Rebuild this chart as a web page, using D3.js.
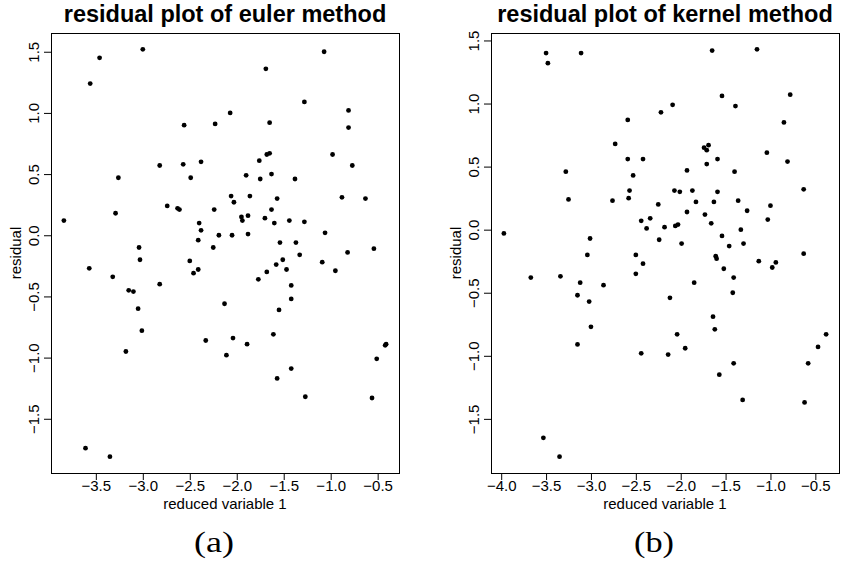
<!DOCTYPE html>
<html>
<head>
<meta charset="utf-8">
<script src="https://cdn.jsdelivr.net/npm/d3@7"></script>
<style>
    body { margin: 0; background: #fff; }
    svg text { font-family: "Liberation Sans", Arial, Helvetica, sans-serif; fill: #000; }
    .plot-title { font-weight: bold; font-size: 23.5px; }
    .axis-label { font-size: 15px; }
    .caption { font-family: "Liberation Serif", "Times New Roman", serif !important; font-size: 29px; }
</style>
</head>
<body>
<svg id="chart"></svg>
<script>

// residuals of the euler method (left panel)
const eulerX = [-3.56, -3.46, -3.00, -1.69, -1.07, -1.28, -0.81, -2.56, -2.23, -2.07,
    -1.65, -0.81, -3.84, -3.29, -3.26, -3.04, -2.82, -2.74, -2.63, -2.61,
    -2.57, -2.49, -2.38, -2.40, -2.38, -2.41, -2.24, -2.25, -2.19, -2.06,
    -2.03, -2.05, -1.95, -1.94, -1.90, -1.86, -1.88, -1.88, -1.76, -1.75,
    -1.68, -1.65, -1.63, -1.63, -1.70, -1.60, -1.57, -1.54, -1.44, -1.38,
    -1.37, -1.28, -1.06, -0.98, -0.88, -0.77, -0.63, -0.54, -3.57, -3.32,
    -3.15, -3.10, -3.03, -3.05, -3.01, -3.18, -2.82, -2.50, -2.46, -2.41,
    -2.13, -2.33, -2.11, -2.04, -1.89, -1.77, -1.68, -1.58, -1.51, -1.47,
    -1.42, -1.42, -1.55, -1.61, -1.42, -1.33, -1.09, -0.95, -0.82, -0.41,
    -0.42, -0.51, -1.57, -1.27, -0.56, -3.61, -3.35];
const eulerY = [1.24, 1.45, 1.52, 1.36, 1.50, 1.09, 1.02, 0.90, 0.91, 1.00,
    0.92, 0.88, 0.12, 0.18, 0.47, -0.10, 0.57, 0.24, 0.22, 0.21,
    0.58, 0.47, 0.60, 0.10, 0.04, -0.04, 0.21, -0.10, 0.00, 0.32,
    0.27, 0.00, 0.15, 0.12, 0.49, 0.32, 0.16, 0.01, 0.61, 0.46,
    0.66, 0.67, 0.50, 0.21, 0.14, 0.10, 0.30, -0.06, 0.12, 0.46,
    -0.06, 0.11, 0.02, 0.66, 0.31, 0.57, 0.30, -0.11, -0.27, -0.34,
    -0.45, -0.46, -0.20, -0.60, -0.78, -0.95, -0.40, -0.21, -0.31, -0.28,
    -0.56, -0.86, -0.98, -0.84, -0.89, -0.36, -0.30, -0.24, -0.20, -0.28,
    -0.41, -0.52, -0.61, -0.81, -1.09, -0.16, -0.22, -0.29, -0.14, -0.89,
    -0.90, -1.01, -1.17, -1.32, -1.33, -1.74, -1.81];

// residuals of the kernel method (right panel)
const kernelX = [-3.50, -3.48, -3.11, -1.65, -1.15, -1.54, -1.39, -0.78, -2.59, -2.22,
    -2.09, -0.85, -3.97, -3.28, -3.25, -3.01, -2.73, -2.76, -2.59, -2.57,
    -2.58, -2.53, -2.42, -2.44, -2.38, -2.34, -2.25, -2.24, -2.18, -2.07,
    -2.01, -2.06, -2.03, -1.99, -1.93, -1.93, -1.87, -1.83, -1.74, -1.71,
    -1.69, -1.71, -1.73, -1.66, -1.63, -1.59, -1.59, -1.54, -1.46, -1.40,
    -1.36, -1.33, -1.30, -1.26, -1.04, -1.00, -1.03, -0.81, -0.63, -3.67,
    -3.34, -3.04, -3.12, -3.15, -3.02, -2.86, -3.00, -3.15, -2.50, -2.42,
    -2.50, -2.44, -2.12, -2.14, -2.04, -1.95, -1.85, -1.61, -1.60, -1.52,
    -1.64, -1.62, -1.41, -1.42, -1.41, -1.13, -0.98, -0.94, -0.63, -0.38,
    -0.47, -0.58, -1.57, -1.31, -0.62, -3.53, -3.35];
const kernelY = [1.40, 1.32, 1.40, 1.42, 1.43, 1.06, 0.98, 1.07, 0.87, 0.93,
    0.99, 0.85, -0.03, 0.46, 0.24, -0.07, 0.68, 0.23, 0.56, 0.31,
    0.25, 0.43, 0.56, 0.07, 0.01, 0.09, 0.20, -0.08, 0.02, 0.31,
    0.30, 0.03, 0.04, -0.11, 0.47, 0.14, 0.31, 0.22, 0.65, 0.63,
    0.67, 0.52, 0.12, 0.05, 0.22, 0.56, 0.30, -0.05, -0.13, 0.46,
    0.23, 0.00, -0.11, 0.15, 0.61, 0.19, 0.08, 0.54, 0.32, -0.38,
    -0.37, -0.20, -0.42, -0.52, -0.57, -0.44, -0.77, -0.91, -0.20, -0.27,
    -0.35, -0.98, -0.54, -0.99, -0.83, -0.94, -0.42, -0.21, -0.23, -0.31,
    -0.69, -0.79, -0.38, -0.50, -1.06, -0.25, -0.30, -0.26, -0.19, -0.83,
    -0.93, -1.06, -1.15, -1.35, -1.37, -1.65, -1.80];

const eulerTicksX = [-3.5, -3.0, -2.5, -2.0, -1.5, -1.0, -0.5];
const kernelTicksX = [-4.0, -3.5, -3.0, -2.5, -2.0, -1.5, -1.0, -0.5];
const residualTicks = [-1.5, -1.0, -0.5, 0.0, 0.5, 1.0, 1.5];

const plotTitles = ['residual plot of euler method', 'residual plot of kernel method'];
const captions = ['(a)', '(b)'];
const xLabel = 'reduced variable 1';
const yLabel = 'residual';


class residualPlot {

    constructor(_config, _data) {
        this.config = {
            parentElement: _config.parentElement,
            left: _config.left || 0,
            top: _config.top || 33,
            width: _config.width || 348,
            height: _config.height || 440,
            title: _config.title,
            caption: _config.caption,
            xTicks: _config.xTicks,
            yTicks: _config.yTicks
        }

        this.data = _data;
        this.initVis();
    }

    initVis() {
        let vis = this;

        vis.chart = d3.select(vis.config.parentElement).append('g')
            .attr('transform', `translate(${vis.config.left},${vis.config.top})`);

        // R pads the data range by 4% on each side
        const pad = ext => {
            const d = (ext[1] - ext[0]) * 0.04;
            return [ext[0] - d, ext[1] + d];
        };

        vis.xScale = d3.scaleLinear()
            .domain(pad(d3.extent(vis.data, d => d.x)))
            .range([0, vis.config.width]);

        vis.yScale = d3.scaleLinear()
            .domain(pad(d3.extent(vis.data, d => d.y)))
            .range([vis.config.height, 0]);

        vis.xAxis = d3.axisBottom(vis.xScale)
            .tickValues(vis.config.xTicks)
            .tickSize(7)
            .tickFormat(d3.format('.1f'));

        vis.yAxis = d3.axisLeft(vis.yScale)
            .tickValues(vis.config.yTicks)
            .tickSize(7)
            .tickFormat(d3.format('.1f'));

        vis.xAxisGroup = vis.chart.append('g')
            .attr('class', 'x-axis')
            .attr('transform', `translate(0,${vis.config.height})`);

        vis.yAxisGroup = vis.chart.append('g')
            .attr('class', 'y-axis');

        // box around the plot region
        vis.chart.append('rect')
            .attr('x', 0.5)
            .attr('y', 0.5)
            .attr('width', vis.config.width)
            .attr('height', vis.config.height)
            .attr('fill', 'none')
            .attr('stroke', '#000')
            .attr('stroke-width', 1);

        vis.chart.append('text')
            .attr('class', 'plot-title')
            .attr('x', vis.config.width / 2)
            .attr('y', -11)
            .style('text-anchor', 'middle')
            .text(vis.config.title);

        vis.chart.append('text')
            .attr('class', 'axis-label')
            .attr('x', vis.config.width / 2)
            .attr('y', vis.config.height + 36)
            .style('text-anchor', 'middle')
            .text(xLabel);

        vis.chart.append('text')
            .attr('class', 'axis-label')
            .attr('transform', 'rotate(-90)')
            .attr('x', -vis.config.height / 2)
            .attr('y', -30)
            .style('text-anchor', 'middle')
            .text(yLabel);

        vis.chart.append('text')
            .attr('class', 'caption')
            .attr('x', vis.config.width / 2 - 11)
            .attr('y', vis.config.height + 79)
            .attr('textLength', 40)
            .attr('lengthAdjust', 'spacingAndGlyphs')
            .style('text-anchor', 'middle')
            .text(vis.config.caption);

        vis.updateVis();
    }

    updateVis() {
        let vis = this;

        vis.renderVis();
    }

    renderVis() {
        let vis = this;

        vis.chart.selectAll('circle')
            .data(vis.data)
            .enter()
            .append('circle')
            .attr('cx', d => vis.xScale(d.x))
            .attr('cy', d => vis.yScale(d.y))
            .attr('r', 2.4)
            .attr('fill', '#000');

        vis.xAxisGroup.call(vis.xAxis)
            .attr('font-size', 15)
            .attr('font-family', null)
            .call(g => g.select('.domain').remove());
        vis.xAxisGroup.selectAll('text')
            .attr('y', 18)
            .attr('dy', 0);

        vis.yAxisGroup.call(vis.yAxis)
            .attr('font-size', 15)
            .attr('font-family', null)
            .call(g => g.select('.domain').remove());
        // y tick labels run parallel to the axis, as in base R
        vis.yAxisGroup.selectAll('text')
            .attr('transform', 'rotate(-90)')
            .attr('x', 0)
            .attr('y', -12)
            .attr('dy', 0)
            .style('text-anchor', 'middle');
    }
}

const svg = d3.select('#chart')
    .attr('width', 841)
    .attr('height', 575);

const eulerData = eulerX.map((x, i) => ({ x: x, y: eulerY[i] }));
const kernelData = kernelX.map((x, i) => ({ x: x, y: kernelY[i] }));

new residualPlot({
    parentElement: '#chart',
    left: 51,
    title: plotTitles[0],
    caption: captions[0],
    xTicks: eulerTicksX,
    yTicks: residualTicks
}, eulerData);

new residualPlot({
    parentElement: '#chart',
    left: 491,
    title: plotTitles[1],
    caption: captions[1],
    xTicks: kernelTicksX,
    yTicks: residualTicks
}, kernelData);

</script>
</body>
</html>
